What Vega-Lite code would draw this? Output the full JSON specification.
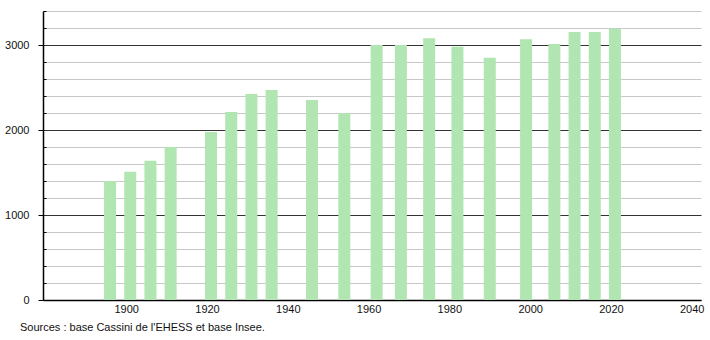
{
  "$schema": "https://vega.github.io/schema/vega-lite/v6.json",
  "width": 658,
  "height": 289,
  "autosize": {"type": "none"},
  "padding": {"left": 43, "top": 11, "right": 9, "bottom": 40},
  "background": "white",
  "config": {
    "view": {"stroke": null},
    "font": "Liberation Sans"
  },
  "title": {
    "text": "Sources : base Cassini de l'EHESS et base Insee.",
    "orient": "bottom",
    "anchor": "start",
    "frame": "group",
    "fontSize": 11,
    "fontWeight": "normal",
    "color": "#111",
    "font": "Liberation Sans",
    "dx": -23,
    "offset": 8
  },
  "data": {
    "values": [
      {"year": 1896, "pop": 1400},
      {"year": 1901, "pop": 1510},
      {"year": 1906, "pop": 1639},
      {"year": 1911, "pop": 1800},
      {"year": 1921, "pop": 1976},
      {"year": 1926, "pop": 2212},
      {"year": 1931, "pop": 2424},
      {"year": 1936, "pop": 2471},
      {"year": 1946, "pop": 2353},
      {"year": 1954, "pop": 2200},
      {"year": 1962, "pop": 3000},
      {"year": 1968, "pop": 3000},
      {"year": 1975, "pop": 3078},
      {"year": 1982, "pop": 2980},
      {"year": 1990, "pop": 2851},
      {"year": 1999, "pop": 3067},
      {"year": 2006, "pop": 3012},
      {"year": 2011, "pop": 3153},
      {"year": 2016, "pop": 3153},
      {"year": 2021, "pop": 3190}
    ]
  },
  "mark": {"type": "bar", "size": 12, "color": "#b1e5b1"},
  "encoding": {
    "x": {
      "field": "year",
      "type": "quantitative",
      "scale": {"domain": [1879.4, 2042.3], "nice": false, "zero": false, "padding": 0},
      "axis": {
        "title": null,
        "values": [1900, 1920, 1940, 1960, 1980, 2000, 2020, 2040],
        "format": "d",
        "grid": false,
        "ticks": false,
        "domainColor": "#000",
        "domainWidth": 1.5,
        "labelFontSize": 11,
        "labelColor": "#111",
        "labelPadding": 3,
        "labelFlush": false,
        "labelFont": "Liberation Sans"
      }
    },
    "y": {
      "field": "pop",
      "type": "quantitative",
      "scale": {"domain": [0, 3400], "nice": false, "padding": 0},
      "axis": {
        "title": null,
        "values": [0, 200, 400, 600, 800, 1000, 1200, 1400, 1600, 1800, 2000, 2200, 2400, 2600, 2800, 3000, 3200, 3400],
        "labelExpr": "datum.value % 1000 === 0 ? format(datum.value, 'd') : ''",
        "grid": true,
        "gridColor": {"condition": {"test": "datum.value % 1000 === 0", "value": "#333333"}, "value": "#c8c8c8"},
        "gridWidth": 1,
        "tickSize": {"condition": {"test": "datum.value % 1000 === 0", "value": 5}, "value": -3},
        "tickColor": "#000",
        "domainColor": "#000",
        "domainWidth": 1.5,
        "labelFontSize": 11,
        "labelColor": "#111",
        "labelPadding": 9,
        "labelFont": "Liberation Sans"
      }
    }
  }
}
